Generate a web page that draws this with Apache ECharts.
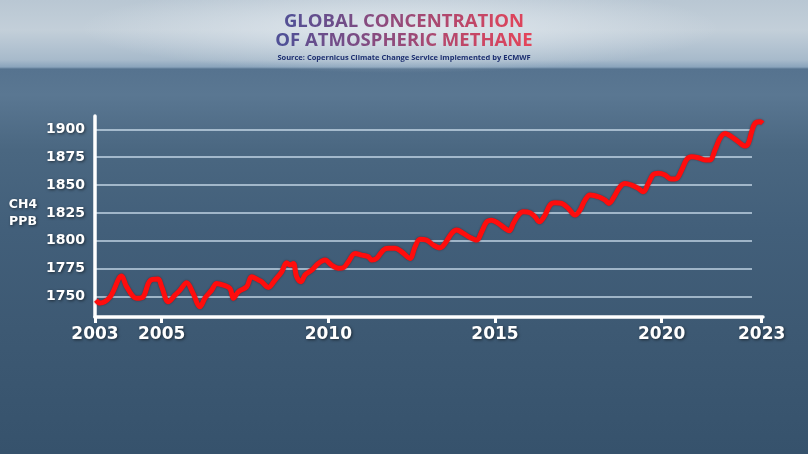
<!DOCTYPE html>
<html>
<head>
<meta charset="utf-8">
<script src="https://cdn.jsdelivr.net/npm/echarts@6/dist/echarts.min.js"></script>
<style>
html,body{margin:0;padding:0;width:808px;height:454px;overflow:hidden;}
body{
  background:
    radial-gradient(ellipse 320px 45px at 400px 28px, rgba(232,238,243,0.8), rgba(232,238,243,0) 100%),
    linear-gradient(to bottom, #b9c7d3 0px, #c3cfd9 30px, #a7bacb 60px, #8aa4bc 67px, #56738f 69px, #5a7792 95px, #4a6781 150px, #425f7a 230px, #3d5973 330px, #36526c 454px);
}
#chart{width:808px;height:454px;}
</style>
</head>
<body>
<div id="chart"></div>
<script>
// ---- data ----
const years = [2003.03,2003.15,2003.45,2003.80,2003.95,2004.25,2004.44,2004.65,2004.89,2005.00,
  2005.20,2005.40,2005.55,2005.75,2005.94,2006.15,2006.30,2006.50,2006.65,2006.85,
  2007.05,2007.15,2007.30,2007.55,2007.70,2007.90,2008.00,2008.20,2008.40,2008.60,
  2008.75,2008.85,2008.95,2009.05,2009.18,2009.30,2009.50,2009.70,2009.90,2010.10,
  2010.30,2010.45,2010.60,2010.80,2011.00,2011.20,2011.30,2011.45,2011.65,2011.80,
  2012.00,2012.20,2012.45,2012.60,2012.75,2012.95,2013.15,2013.35,2013.50,2013.70,
  2013.85,2014.05,2014.25,2014.45,2014.60,2014.75,2014.90,2015.10,2015.30,2015.43,
  2015.55,2015.70,2015.85,2016.05,2016.20,2016.33,2016.50,2016.65,2016.80,2017.00,
  2017.20,2017.40,2017.55,2017.70,2017.85,2018.15,2018.30,2018.42,2018.60,2018.75,
  2018.90,2019.10,2019.30,2019.45,2019.60,2019.75,2019.90,2020.10,2020.28,2020.45,
  2020.60,2020.75,2020.90,2021.10,2021.30,2021.45,2021.60,2021.75,2021.90,2022.10,
  2022.30,2022.50,2022.60,2022.70,2022.80,2022.95,2023.03];
const methane = [1746.9,1744.2,1749.6,1768.4,1758.8,1748.4,1749.6,1764.2,1765.7,1758.8,
  1745.3,1751.3,1755.8,1762.4,1753.1,1740.9,1748.7,1755.8,1761.8,1760.3,
  1757.3,1748.4,1754.3,1758.8,1767.7,1764.8,1763.3,1758.2,1764.8,1772.2,
  1780.3,1778.2,1779.7,1767.7,1763.3,1769.3,1773.7,1779.7,1782.7,1778.2,
  1775.3,1775.8,1781.2,1788.7,1787.2,1785.7,1782.7,1784.2,1791.7,1793.2,
  1793.2,1790.1,1784.2,1794.6,1801.3,1800.6,1796.1,1793.7,1797.7,1806.6,
  1809.6,1806.6,1803.0,1800.6,1808.1,1817.0,1818.5,1815.6,1811.1,1809.0,
  1815.6,1823.0,1826.0,1825.1,1821.5,1817.0,1823.0,1832.0,1834.1,1833.5,
  1829.0,1823.0,1827.5,1836.5,1841.0,1838.9,1836.5,1833.5,1841.0,1848.4,
  1851.4,1849.9,1847.0,1843.9,1851.4,1859.5,1860.4,1858.9,1855.3,1855.9,
  1863.4,1872.9,1875.3,1874.4,1872.3,1872.3,1881.3,1891.8,1896.2,1893.2,
  1888.7,1884.9,1887.3,1897.7,1905.2,1906.6,1905.2];
const xTickLabels = [2003, 2005, 2010, 2015, 2020, 2023];
const yTickMin = 1750, yTickMax = 1900, yTickStep = 25;
const titleLines = ['GLOBAL CONCENTRATION', 'OF ATMOSPHERIC METHANE'];
const sourceText = 'Source: Copernicus Climate Change Service implemented by ECMWF';
const unitLines = ['CH4', 'PPB'];

const seriesData = years.map((y, i) => [y, methane[i]]);

// per-character horizontal colour ramp for the title (purple -> red)
const rampFrom = [80, 80, 150], rampTo = [226, 68, 90];
function rampColor(t) {
  const c = rampFrom.map((a, i) => Math.round(a + (rampTo[i] - a) * t));
  return 'rgb(' + c.join(',') + ')';
}
function gradientTitle(line, x0, x1) {
  const rich = {};
  let text = '';
  const n = line.length;
  for (let i = 0; i < n; i++) {
    const t = x0 + (x1 - x0) * (i / (n - 1));
    const key = 'c' + i;
    rich[key] = {fill: rampColor(Math.max(0, Math.min(1, t))), font: '700 18.5px "Open Sans"'};
    text += '{' + key + '|' + line[i] + '}';
  }
  return {text, rich};
}
const t1 = gradientTitle(titleLines[0], 0.03, 0.96);
const t2 = gradientTitle(titleLines[1], 0.0, 1.0);

const chart = echarts.init(document.getElementById('chart'), null, {renderer: 'canvas'});
const labelShadow = {textShadowColor: 'rgba(0,0,0,0.55)', textShadowBlur: 3, textShadowOffsetX: 1, textShadowOffsetY: 1};
const gShadow = {textShadowColor: 'rgba(0,0,0,0.55)', textShadowBlur: 3, textShadowOffsetX: 1, textShadowOffsetY: 1};

chart.setOption({
  backgroundColor: 'transparent',
  animation: false,
  graphic: [
    {type: 'text', left: 'center', top: 12, style: {text: t1.text, rich: t1.rich, font: '700 18.5px "Open Sans"'}},
    {type: 'text', left: 'center', top: 31, style: {text: t2.text, rich: t2.rich, font: '700 18.5px "Open Sans"'}},
    {type: 'text', left: 'center', top: 54, style: {text: sourceText, font: '700 7.5px "Open Sans"', fill: '#1d2f70'}},
    {type: 'text', x: 23, y: 198, style: Object.assign({text: unitLines[0], font: '700 12.5px "DejaVu Sans"', fill: '#ffffff', align: 'center'}, gShadow)},
    {type: 'text', x: 23, y: 215, style: Object.assign({text: unitLines[1], font: '700 12.5px "DejaVu Sans"', fill: '#ffffff', align: 'center'}, gShadow)}
  ],
  grid: [
    {left: 95, right: 56, top: 129.3, bottom: 454 - 296.6},
    {left: 95, right: 45, top: 116, bottom: 137}
  ],
  xAxis: [
    {gridIndex: 0, type: 'value', min: 2003, max: 2023, show: false},
    {gridIndex: 1, type: 'value', min: 2003, max: 2023.04,
      axisLine: {show: true, lineStyle: {color: '#ffffff', width: 3.5}},
      axisTick: {show: true, customValues: xTickLabels, length: 6, lineStyle: {color: '#ffffff', width: 3}},
      axisLabel: Object.assign({show: true, customValues: xTickLabels, margin: 9, color: '#ffffff',
        fontFamily: 'DejaVu Sans', fontWeight: 700, fontSize: 17, formatter: v => String(Math.round(v))}, labelShadow),
      splitLine: {show: false}}
  ],
  yAxis: [
    {gridIndex: 0, type: 'value', min: yTickMin, max: yTickMax, interval: yTickStep,
      axisLine: {show: false}, axisTick: {show: false},
      axisLabel: Object.assign({margin: 10, color: '#ffffff', fontFamily: 'DejaVu Sans', fontWeight: 700, fontSize: 14,
        formatter: v => String(v)}, labelShadow),
      splitLine: {show: true, lineStyle: {color: 'rgba(214,230,245,0.85)', width: 1.5}}},
    {gridIndex: 1, type: 'value', min: 1731.7, max: 1911.8,
      axisLine: {show: true, lineStyle: {color: '#ffffff', width: 3.5}},
      axisTick: {show: false}, axisLabel: {show: false}, splitLine: {show: false}}
  ],
  series: [
    {type: 'line', xAxisIndex: 1, yAxisIndex: 1, data: seriesData, showSymbol: false, smooth: 0.35,
      lineStyle: {color: '#ff0d0d', width: 5, shadowColor: 'rgba(60,0,0,0.45)', shadowBlur: 2}, z: 5}
  ]
});
</script>
</body>
</html>
